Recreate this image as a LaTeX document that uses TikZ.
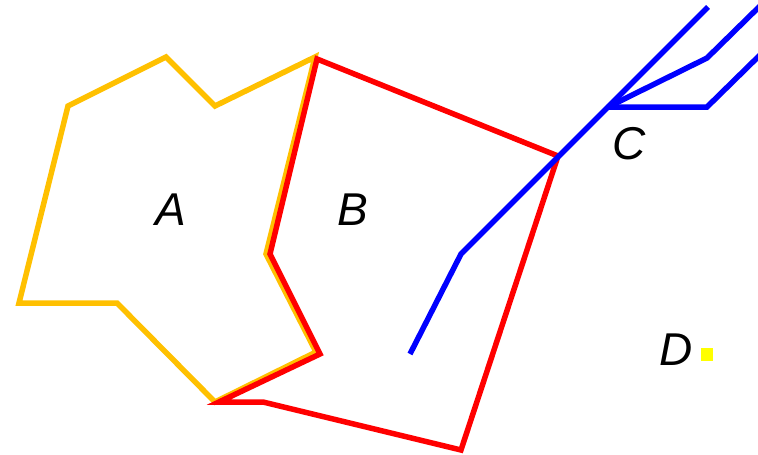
\documentclass[tikz,border=0pt]{standalone}
\usepackage{fontspec}
\setmainfont{Liberation Sans}
\definecolor{ay}{RGB}{255,192,0}
\definecolor{br}{RGB}{255,0,0}
\definecolor{cb}{RGB}{0,0,255}
\definecolor{dy}{RGB}{255,255,0}
\begin{document}
\begin{tikzpicture}[x=1pt,y=-1pt,
  edge/.style={line width=5.5pt,line join=miter,line cap=butt},
  lbl/.style={font=\fontsize{46}{46}\selectfont\itshape,inner sep=0pt}]
\useasboundingbox (0,0) rectangle (758,455);
% region A (yellow)
\coordinate (a1) at (315,57);
\coordinate (a2) at (215,106);
\coordinate (a3) at (166,57);
\coordinate (a4) at (68,106);
\coordinate (a5) at (19,303);
\coordinate (a6) at (117,303);
\coordinate (a7) at (215,402);
\coordinate (a8) at (316,352);
\coordinate (a9) at (266,254);
\draw[edge,ay] (a1) -- (a2) -- (a3) -- (a4) -- (a5) -- (a6) -- (a7) -- (a8) -- (a9) -- cycle;
% region B (red)
\coordinate (b1) at (317,59);
\coordinate (b2) at (558,156);
\coordinate (b3) at (461,450);
\coordinate (b4) at (263,402);
\coordinate (b5) at (219,402);
\coordinate (b6) at (320,354);
\coordinate (b7) at (270,254);
\draw[edge,br] (b1) -- (b2) -- (b3) -- (b4) -- (b5) -- (b6) -- (b7) -- cycle;
% C (blue)
\coordinate (c1) at (410,354);
\coordinate (c2) at (461,254);
\coordinate (c3) at (608,107);
\coordinate (c4) at (708,7);
\coordinate (c5) at (707,58);
\coordinate (c6) at (760,6);
\coordinate (c7) at (707,107);
\coordinate (c8) at (760,55);
\draw[edge,cb] (c1) -- (c2) -- (c3) -- (c4);
\draw[edge,cb] (c3) -- (c5) -- (c6);
\draw[edge,cb] (c3) -- (c7) -- (c8);
% D
\fill[dy] (701,348) rectangle (713,361);
% labels
\node[lbl] (la) at (171,210) {A};
\node[lbl] (lb) at (353,210) {B};
\node[lbl] (lc) at (629,144) {C};
\node[lbl] (ld) at (676,350) {D};
\end{tikzpicture}
\end{document}
